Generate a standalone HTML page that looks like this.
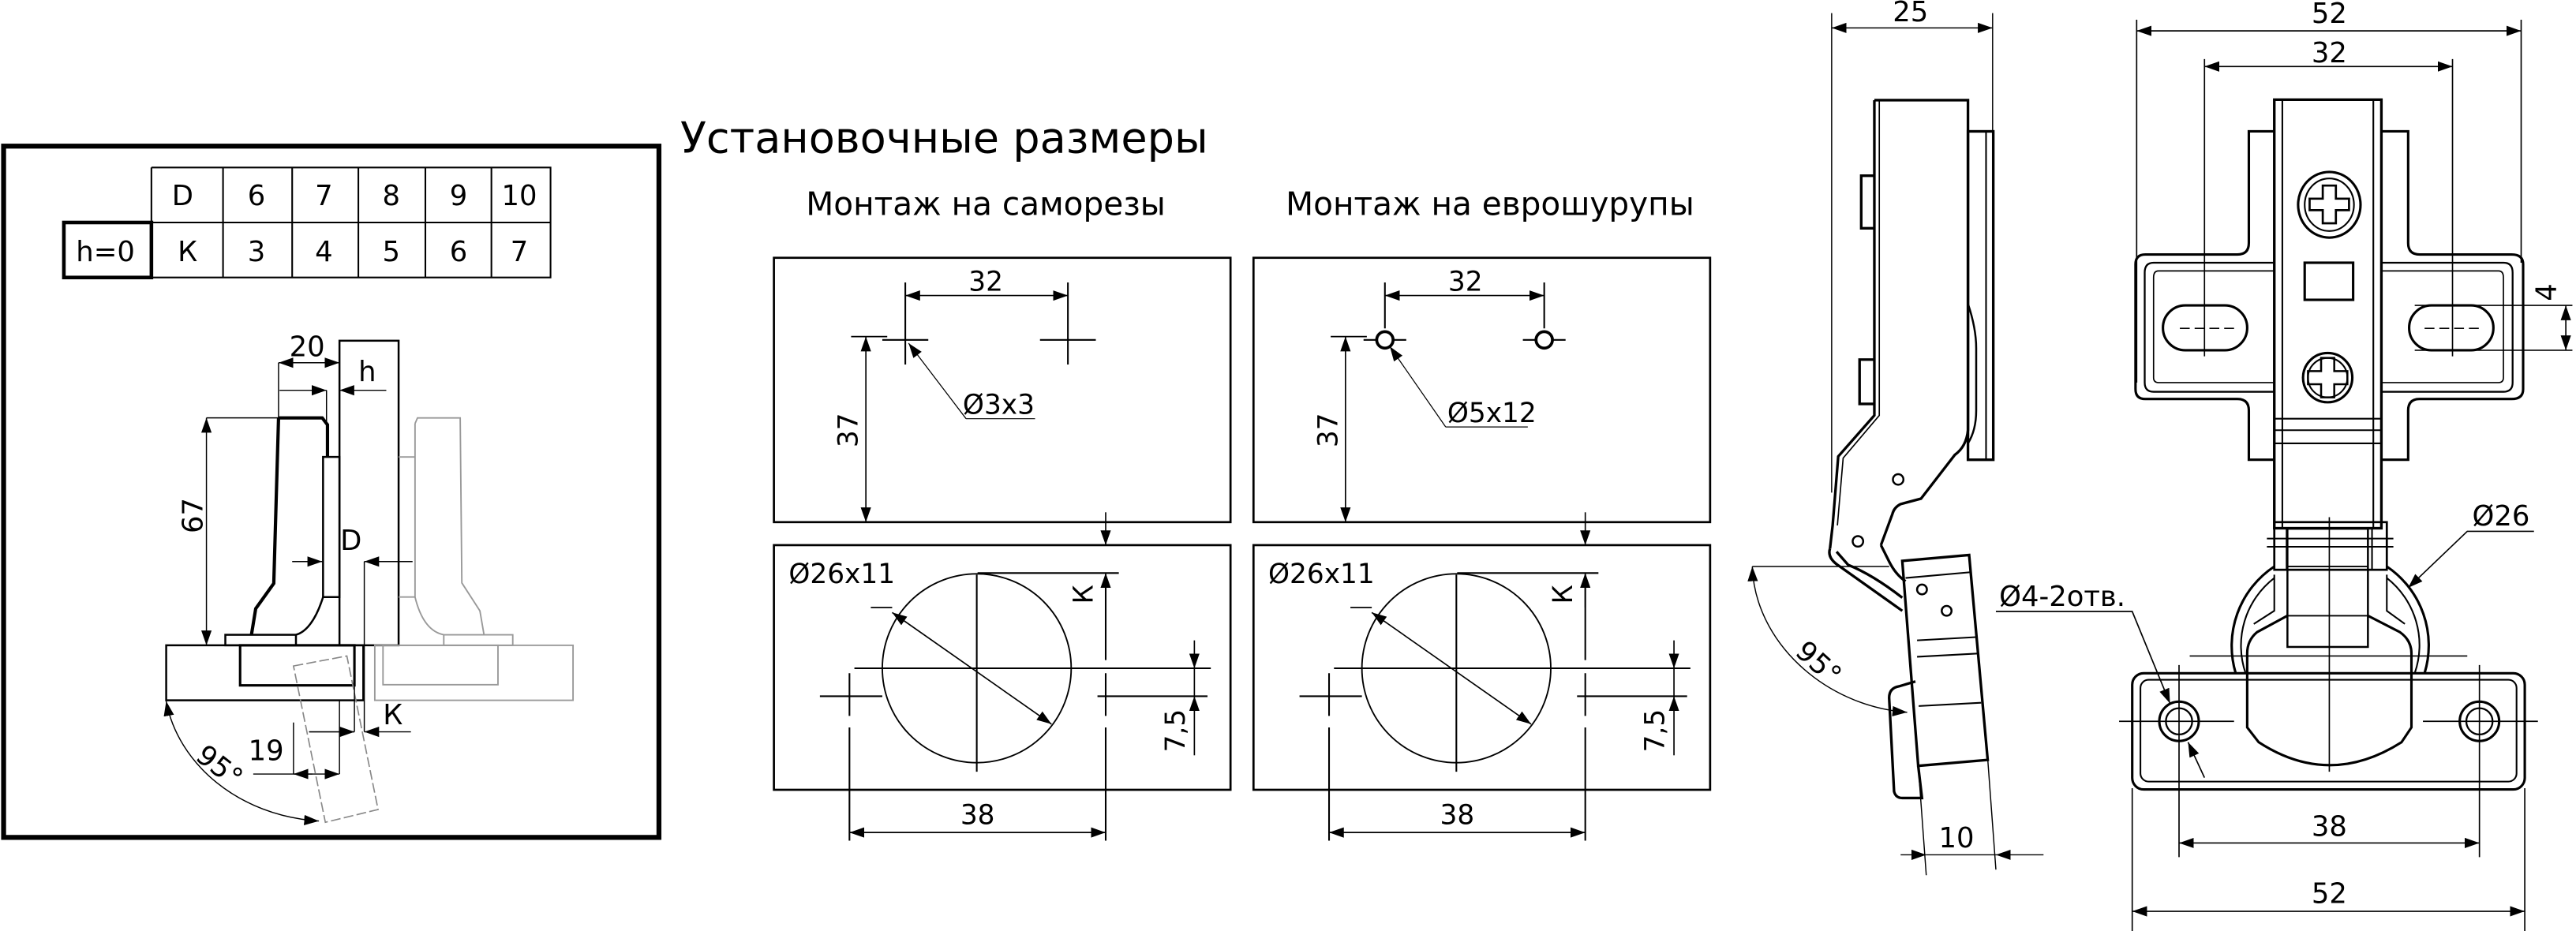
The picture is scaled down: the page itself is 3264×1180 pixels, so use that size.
<!DOCTYPE html>
<html><head><meta charset="utf-8"><style>
html,body{margin:0;padding:0;background:#fff;}
svg{display:block;}
text{font-family:"DejaVu Sans","Liberation Sans",sans-serif;fill:#000;}
</style></head><body>
<svg width="3264" height="1180" viewBox="0 0 1568 567" xmlns="http://www.w3.org/2000/svg">
<defs>
<marker id="a" viewBox="0 0 10 10" refX="10" refY="5" markerWidth="9" markerHeight="9" markerUnits="userSpaceOnUse" orient="auto-start-reverse"><path d="M0,1.5 L10,5 L0,8.5 z" fill="#000"/></marker>
</defs>
<rect width="1568" height="567" fill="#fff"/>

<!-- LEFT FRAME -->
<rect x="2" y="89" width="399" height="421" fill="none" stroke="#000" stroke-width="3"/>
<g fill="none" stroke="#000" stroke-width="1">
<path d="M92,102 H335 V169 H92 V102 M92,135.5 H335 M135.6,102 V169 M177.7,102 V169 M218,102 V169 M258.8,102 V169 M299,102 V169"/>
</g>
<rect x="38.7" y="135.5" width="53.3" height="33.5" fill="none" stroke="#000" stroke-width="2.2"/>
<g font-size="17" text-anchor="middle">
<text x="111" y="125">D</text><text x="156" y="125">6</text><text x="197" y="125">7</text><text x="238" y="125">8</text><text x="279" y="125">9</text><text x="316" y="125">10</text>
<text x="64" y="159">h=0</text><text x="114" y="159">К</text><text x="156" y="159">3</text><text x="197" y="159">4</text><text x="238" y="159">5</text><text x="279" y="159">6</text><text x="316" y="159">7</text>
</g>
<!-- hinge left -->
<g fill="none" stroke="#000">
<rect x="206.5" y="207.5" width="36" height="185.5" stroke-width="1.2"/>
<rect x="101" y="393" width="120" height="33.5" stroke-width="1.2"/>
<rect x="146" y="393" width="69.6" height="24.4" stroke-width="1.5"/>
<rect x="137" y="386.6" width="43" height="6.4" stroke-width="1.2"/>
<path d="M169.4,254.5 H196 L199.2,258.7 V278.3 M169.4,254.5 L166.5,355.3 L155.5,370.7 L152.9,386.6" stroke-width="2"/>
<path d="M196.5,278.3 H206.5 V363.6 H196.5 Z" stroke-width="1.2"/>
<path d="M196.5,363.6 C192,378 186,385 180,386.6" stroke-width="1.2"/>
</g>
<g fill="none" stroke="#999" stroke-width="0.9">
<rect x="228" y="393" width="120.7" height="33.5"/>
<rect x="233" y="393" width="70" height="24"/>
<rect x="270" y="386.6" width="42" height="6.4"/>
<path d="M252.5,258 L254,254.5 H280 L281,355 L292,372 L294.5,386.6 M252.5,258 V278 M242.5,278.3 H252.5 V363.6 H242.5 M252.5,363.6 C256,378 262,385 270,386.6"/>
</g>
<g fill="none" stroke="#888" stroke-width="0.8" stroke-dasharray="6,2">
<path d="M178.5,405.6 L211,399.5 L230,493 L197.9,500.8 Z"/>
</g>
<g fill="none" stroke="#000" stroke-width="0.7">
<path d="M169.4,220.9 V254.5 M206.5,215 V221 M198.6,237.7 V258 M125.5,254.5 H169.4 M221.6,342 V445.7 M178.5,440 V471.4 M206.5,426 V471.4 M215.6,417 V445.7 M188,445.7 H215.6"/>
<path d="M169.4,220.9 H206.5" marker-start="url(#a)" marker-end="url(#a)"/>
<path d="M170,237.7 H198.6" marker-end="url(#a)"/>
<path d="M235,237.7 H206.5" marker-end="url(#a)"/>
<path d="M125.5,254.5 V393" marker-start="url(#a)" marker-end="url(#a)"/>
<path d="M177.7,342 H196" marker-end="url(#a)"/>
<path d="M251,342 H221.6" marker-end="url(#a)"/>
<path d="M250,445.7 H221.6" marker-end="url(#a)"/>
<path d="M188,445.7 H215.6" marker-end="url(#a)"/>
<path d="M154,471.4 H178.5 M178.5,471.4 H206.5" marker-end="url(#a)"/>
<path d="M178.5,471.4 H190" marker-start="url(#a)"/>
<path d="M101,427 C108,465 145,497 194,500" marker-start="url(#a)" marker-end="url(#a)"/>
</g>
<g font-size="17">
<text x="176" y="217">20</text>
<text x="218" y="232">h</text>
<text x="207" y="335">D</text>
<text x="233" y="441">К</text>
<text x="151" y="463">19</text>
<text transform="translate(123,314) rotate(-90)" text-anchor="middle">67</text>
<text transform="translate(118,462) rotate(38)">95°</text>
</g>

<!-- MIDDLE -->
<text x="414" y="93" font-size="26">Установочные размеры</text>
<text x="600" y="131" font-size="19.5" text-anchor="middle">Монтаж на саморезы</text>
<text x="907" y="131" font-size="19.5" text-anchor="middle">Монтаж на еврошурупы</text>

<g id="mid">
<g fill="none" stroke="#000">
<rect x="471" y="157" width="278" height="161" stroke-width="1.3"/>
<rect x="471" y="332" width="278" height="149" stroke-width="1.3"/>
<circle cx="594.5" cy="407" r="57.5" stroke-width="0.9"/>
<path d="M520,407 H737 M594.5,350 V470 M499,424 H537 M517,410 V436 M517,443 V512 M668,424 H705 M673,410 V436 M673,443 V512 M673,350 V402 M595,349 H681 M680,424 H735" stroke-width="1"/>
</g>
<g fill="none" stroke="#000" stroke-width="0.8">
<path d="M517,507 H673" marker-start="url(#a)" marker-end="url(#a)"/>
<path d="M543,373 L640,441" marker-start="url(#a)" marker-end="url(#a)"/>
<path d="M530,370 H543"/>
<path d="M673,312 V332" marker-end="url(#a)"/>
<path d="M673,370 V349" marker-end="url(#a)"/>
<path d="M727,390 V407" marker-end="url(#a)"/>
<path d="M727,460 V424" marker-end="url(#a)"/>
<path d="M727,407 V424"/>
<path d="M527,205 V318" marker-start="url(#a)" marker-end="url(#a)"/>
<path d="M518,205 H540"/>
</g>
<g font-size="16.5">
<text x="480" y="355">Ø26x11</text>
<text x="595" y="502" text-anchor="middle">38</text>
<text transform="translate(665,362) rotate(-90)" text-anchor="middle">К</text>
<text transform="translate(721,445) rotate(-90)" text-anchor="middle">7,5</text>
<text transform="translate(522,262) rotate(-90)" text-anchor="middle">37</text>
</g>
</g>
<!-- top-left box details -->
<g fill="none" stroke="#000">
<path d="M551,172 V218 M650,172 V218 M537,207 H565 M633,207 H667 M551,192 V222 M650,192 V222" stroke-width="1"/>
<path d="M551,180 H650" stroke-width="0.8" marker-start="url(#a)" marker-end="url(#a)"/>
<path d="M588,255 L553,209" stroke-width="0.6" marker-end="url(#a)"/>
<path d="M588,255 H630" stroke-width="0.6"/>
</g>
<g font-size="16.5"><text x="600" y="177" text-anchor="middle">32</text><text x="586" y="252">Ø3x3</text></g>

<!-- right middle boxes -->
<use href="#mid" transform="translate(292,0)"/>
<g fill="none" stroke="#000">
<circle cx="843" cy="207" r="5" stroke-width="1.8"/>
<circle cx="940" cy="207" r="5" stroke-width="1.8"/>
<path d="M843,172 V200 M940,172 V200 M830,207 H838 M848,207 H856 M927,207 H935 M945,207 H953" stroke-width="1"/>
<path d="M843,180 H940" stroke-width="0.8" marker-start="url(#a)" marker-end="url(#a)"/>
<path d="M880,260 L846,211" stroke-width="0.6" marker-end="url(#a)"/>
<path d="M880,260 H930" stroke-width="0.6"/>
</g>
<g font-size="16.5"><text x="892" y="177" text-anchor="middle">32</text><text x="881" y="257">Ø5x12</text></g>

<!-- SIDE VIEW -->
<g fill="none" stroke="#000" stroke-width="1.6">
<path d="M1141,61 H1198 V262 Q1197,272 1190,277 L1169.4,303.7 L1157,307 Q1153,309 1152,313 L1145,332"/>
<path d="M1141,61 V253 L1119,278 L1115.6,320 L1114,334"/>
<path d="M1144,61 V253 L1122,279 L1118.5,320" stroke-width="0.8"/>
<rect x="1198" y="80" width="15.4" height="200"/>
<path d="M1209,80 V280" stroke-width="1"/>
<path d="M1198,185 Q1203,200 1203,212 V250 Q1203,262 1198,270" stroke-width="1.2"/>
<path d="M1141,107 H1133 V139 H1141 M1141,219 H1132 V246 H1141"/>
<circle cx="1155.5" cy="292" r="3.2" stroke-width="1.2"/>
<circle cx="1131" cy="329.7" r="3.2" stroke-width="1.2"/>
<path d="M1114,334 Q1112,340 1120,345 L1158,372 M1118,336 L1125,344 Q1140,350 1158,364 M1145,332 L1150,342 Q1154,350 1160,354"/>
<path d="M1158,341.6 L1198.7,338 L1210,462.8 L1167.7,466.4 Z"/>
<path d="M1160,352 L1199.5,348.5 M1167,390 L1203,388 M1167,400 L1204,398 M1168,430 L1206,428" stroke-width="1"/>
<circle cx="1170" cy="359" r="3" stroke-width="1.2"/>
<circle cx="1185" cy="372" r="3" stroke-width="1.2"/>
<path d="M1166,415 L1156,418 Q1150,419 1150,425 L1153,482 Q1154,486 1158,486 L1170,486 L1167.7,466.4"/>
</g>
<g fill="none" stroke="#000" stroke-width="0.7">
<path d="M1115,8 V300 M1213,8 V82 M1167.7,466 L1172.6,533 M1210,462 L1215,529.6 M1066.7,345 H1150"/>
<path d="M1115,17 H1213" marker-start="url(#a)" marker-end="url(#a)"/>
<path d="M1157,520.6 H1172.6" marker-end="url(#a)"/>
<path d="M1172.6,520.6 H1215"/>
<path d="M1244,520.6 H1215" marker-end="url(#a)"/>
<path d="M1066.7,345 C1068,390 1110,430 1161,433.8" marker-start="url(#a)" marker-end="url(#a)"/>
</g>
<g font-size="17">
<text x="1163" y="13" text-anchor="middle">25</text>
<text x="1191" y="516" text-anchor="middle">10</text>
<text transform="translate(1092,398) rotate(42)">95°</text>
</g>

<!-- FRONT VIEW -->
<g fill="none" stroke="#000" stroke-width="1.5">
<path d="M1384.5,80 H1369 V148 Q1369,155 1362,155 H1306 Q1300,155 1300,161 V237 Q1300,243 1306,243 H1362 Q1369,243 1369,250 V280 H1384.5"/>
<path d="M1449.7,80 H1466 V148 Q1466,155 1473,155 H1529 Q1536,155 1536,161 V237 Q1536,243 1529,243 H1473 Q1466,243 1466,250 V280 H1449.7"/>
<path d="M1384.5,160 H1311 Q1305.6,160 1305.6,166 V233 Q1305.6,238.6 1311,238.6 H1384.5 M1449.7,160 H1524 Q1529.6,160 1529.6,166 V233 Q1529.6,238.6 1524,238.6 H1449.7" stroke-width="1.1"/>
<path d="M1384.5,165 H1314 Q1311,165 1311,169 V230 Q1311,233 1314,233 H1384.5 M1449.7,165 H1521 Q1524,165 1524,169 V230 Q1524,233 1521,233 H1449.7" stroke-width="0.8"/>
<rect x="1384.5" y="60.7" width="65.2" height="261" stroke-width="1.6"/>
<path d="M1389.4,60.7 V321.8 M1444.8,60.7 V321.8 M1384.5,255 H1449.7 M1384.5,262 H1449.7 M1384.5,270 H1449.7" stroke-width="1"/>
<rect x="1316.7" y="186" width="51.3" height="27.3" rx="13.6"/>
<rect x="1466.6" y="186" width="51.3" height="27.3" rx="13.6"/>
<ellipse cx="1418" cy="124.7" rx="19" ry="20"/>
<ellipse cx="1418" cy="124.7" rx="15" ry="16" stroke-width="1"/>
<path d="M1414,113 H1422 V121 H1430 V128 H1422 V136 H1414 V128 H1406 V121 H1414 Z" stroke-width="1.3"/>
<circle cx="1417" cy="230" r="15"/>
<circle cx="1417" cy="230" r="12" stroke-width="1"/>
<path d="M1413,218 H1421 V226 H1429 V234 H1421 V242 H1413 V234 H1405 V226 H1413 Z" stroke-width="1.2"/>
<rect x="1403" y="160" width="29.5" height="22.6"/>
<rect x="1384.5" y="318" width="68.5" height="29" stroke-width="1.3"/>
<path d="M1380,328 H1457 M1380,333 H1457 M1392,322 V347 M1444,322 V347" stroke-width="1"/>
<rect x="1392.5" y="322" width="49" height="72" stroke-width="1.2"/>
<path d="M1392.5,345 H1441.5 M1392.5,375 H1441.5" stroke-width="0.9"/>
<path d="M1384.5,345 A58,58 0 0 0 1361,410 M1453,345 A58,58 0 0 1 1476,410"/>
<path d="M1384.5,352 A52,52 0 0 0 1367,410 M1453,352 A52,52 0 0 1 1470,410" stroke-width="1"/>
<path d="M1392.5,375 L1374,385 Q1368,390 1368,398 V443 L1375,452 Q1418,480 1462,452 L1468,443 V398 Q1468,390 1461,385 L1441.5,375"/>
<path d="M1384.5,350 V372 L1372,380 M1453,350 V372 L1464,380" stroke-width="1"/>
<rect x="1298" y="410" width="239" height="70.8" rx="7"/>
<rect x="1303" y="414" width="229" height="62" rx="5" stroke-width="1"/>
<circle cx="1326.5" cy="439.3" r="12"/><circle cx="1326.5" cy="439.3" r="8" stroke-width="1.1"/>
<circle cx="1509.4" cy="439.3" r="12"/><circle cx="1509.4" cy="439.3" r="8" stroke-width="1.1"/>
</g>
<g fill="none" stroke="#000" stroke-width="0.8">
<path d="M1333,399.5 H1502 M1290,439.3 H1360 M1475,439.3 H1545 M1326.5,405 V522 M1509.4,405 V522 M1418,315 V470"/>
<path d="M1327,200 H1360 M1476,200 H1510" stroke-dasharray="6,3"/>
<path d="M1300.7,12 V233 M1534.8,12 V160 M1342,36 V217 M1493,36 V217 M1470,186 H1566 M1470,213.3 H1566 M1298,480 V567 M1537,480 V567"/>
<path d="M1300.7,18.8 H1534.8" marker-start="url(#a)" marker-end="url(#a)"/>
<path d="M1342,40.5 H1493" marker-start="url(#a)" marker-end="url(#a)"/>
<path d="M1562,186 V213.3" marker-start="url(#a)" marker-end="url(#a)"/>
<path d="M1326.5,513.4 H1509.4" marker-start="url(#a)" marker-end="url(#a)"/>
<path d="M1298,555 H1537" marker-start="url(#a)" marker-end="url(#a)"/>
<path d="M1542.6,323.6 H1502 L1466,358" marker-end="url(#a)"/>
<path d="M1215,372.4 H1298 L1321,428.4" marker-end="url(#a)"/>
<path d="M1342,473.6 L1332,452" marker-end="url(#a)"/>
</g>
<g font-size="17">
<text x="1418" y="14" text-anchor="middle">52</text>
<text x="1418" y="38" text-anchor="middle">32</text>
<text transform="translate(1556,178) rotate(-90)" text-anchor="middle">4</text>
<text x="1505" y="320">Ø26</text>
<text x="1217" y="369">Ø4-2отв.</text>
<text x="1418" y="509" text-anchor="middle">38</text>
<text x="1418" y="550" text-anchor="middle">52</text>
</g>
</svg>
</body></html>
